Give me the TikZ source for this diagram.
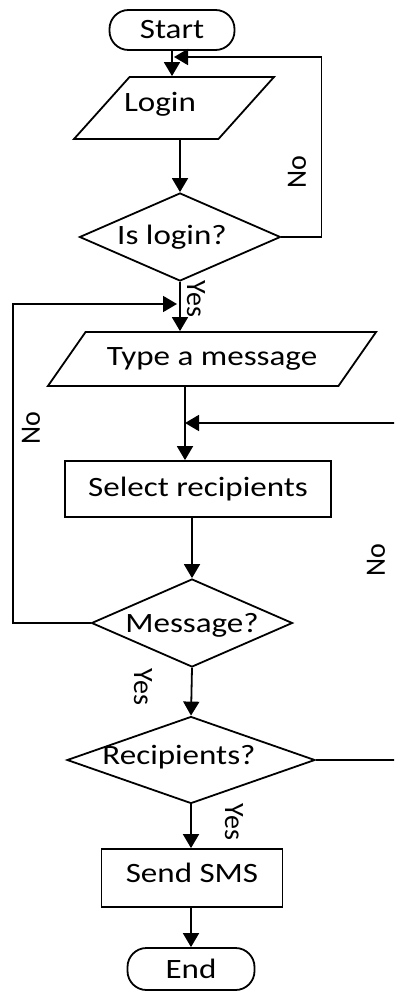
\documentclass[tikz,border=0pt]{standalone}
\usepackage{fontspec}
\setmainfont{Carlito}[FakeStretch=1.18]
\newfontfamily\lblfont{Carlito}
\usetikzlibrary{arrows.meta,shapes.geometric}

\begin{document}
\begin{tikzpicture}[x=1pt,y=-1pt,line width=1.8pt,
    font=\fontsize{28}{32}\selectfont,
    term/.style={draw,rectangle,rounded corners=19pt,inner sep=0pt},
    io/.style={draw,trapezium,trapezium stretches=true,inner sep=2pt},
    proc/.style={draw,rectangle,inner sep=0pt},
    dec/.style={draw,diamond,inner sep=0pt},
    lbl/.style={font=\lblfont\fontsize{28}{32}\selectfont,inner sep=0pt},
    arr/.style={-{Triangle[length=14pt,width=16pt]}}]
    \useasboundingbox (0,0) rectangle (394,992);
    \clip (0,0) rectangle (394,992);
    \node[term,minimum width=125pt,minimum height=40pt] (start) at (172,30) {Start};
    \node[io,trapezium left angle=58,trapezium right angle=122,minimum width=200pt,minimum height=62pt,
      label={[xshift=-14pt,yshift=4pt]center:Login}] (login) at (174,108) {};
    \node[dec,minimum width=201pt,minimum height=88pt,
      label={[xshift=-8pt]center:Is login?}] (islogin) at (180,237) {};
    \node[io,trapezium left angle=40,trapezium right angle=140,minimum width=329pt,minimum height=54pt] (type) at (212,359) {Type a message};
    \node[proc,minimum width=266pt,minimum height=56pt] (select) at (198,489) {Select recipients};
    \node[dec,minimum width=201pt,minimum height=88pt,
      label={[yshift=-2pt]center:Message?}] (message) at (192,623) {};
    \node[dec,minimum width=248pt,minimum height=87pt,
      label={[xshift=-12pt,yshift=3pt]center:Recipients?}] (recip) at (191,760) {};
    \node[proc,minimum width=181pt,minimum height=58pt] (send) at (192,878) {\raisebox{10pt}{Send SMS}};
    \node[term,minimum width=127pt,minimum height=42pt] (stop) at (191,969) {End};
    \coordinate (j1) at (174,57);
    \coordinate (j2) at (177,304);
    \coordinate (j3) at (185,423);
    \draw[arr] (start.south) -- (start |- login.north);
    \draw[arr] (islogin |- login.south) -- (islogin.north);
    \draw[arr] (islogin.east) -- ++(40,0) |- (j1);
    \draw[arr] (islogin.south) -- (islogin |- type.north);
    \draw[arr] (message.west) -- ++(-78,0) |- (j2);
    \draw[arr] (j3 |- type.south) -- (j3 |- select.north);
    \draw[arr] (recip.east) -- ++(110,0) |- (j3);
    \draw[arr] (message |- select.south) -- (message.north);
    \draw[arr] (message.south) -- (recip.north);
    \draw[arr] (recip.south) -- (recip |- send.north);
    \draw[arr] (recip |- send.south) -- (stop.north);
    \node[lbl,rotate=90] (no1) at (297,172) {No};
    \node[lbl,rotate=-90] (yes1) at (196,299) {Yes};
    \node[lbl,rotate=90] (no2) at (31,428) {No};
    \node[lbl,rotate=90] (no3) at (376,560) {No};
    \node[lbl,rotate=-90] (yes2) at (143,687) {Yes};
    \node[lbl,rotate=-90] (yes3) at (234,822) {Yes};
  \end{tikzpicture}
\end{document}
